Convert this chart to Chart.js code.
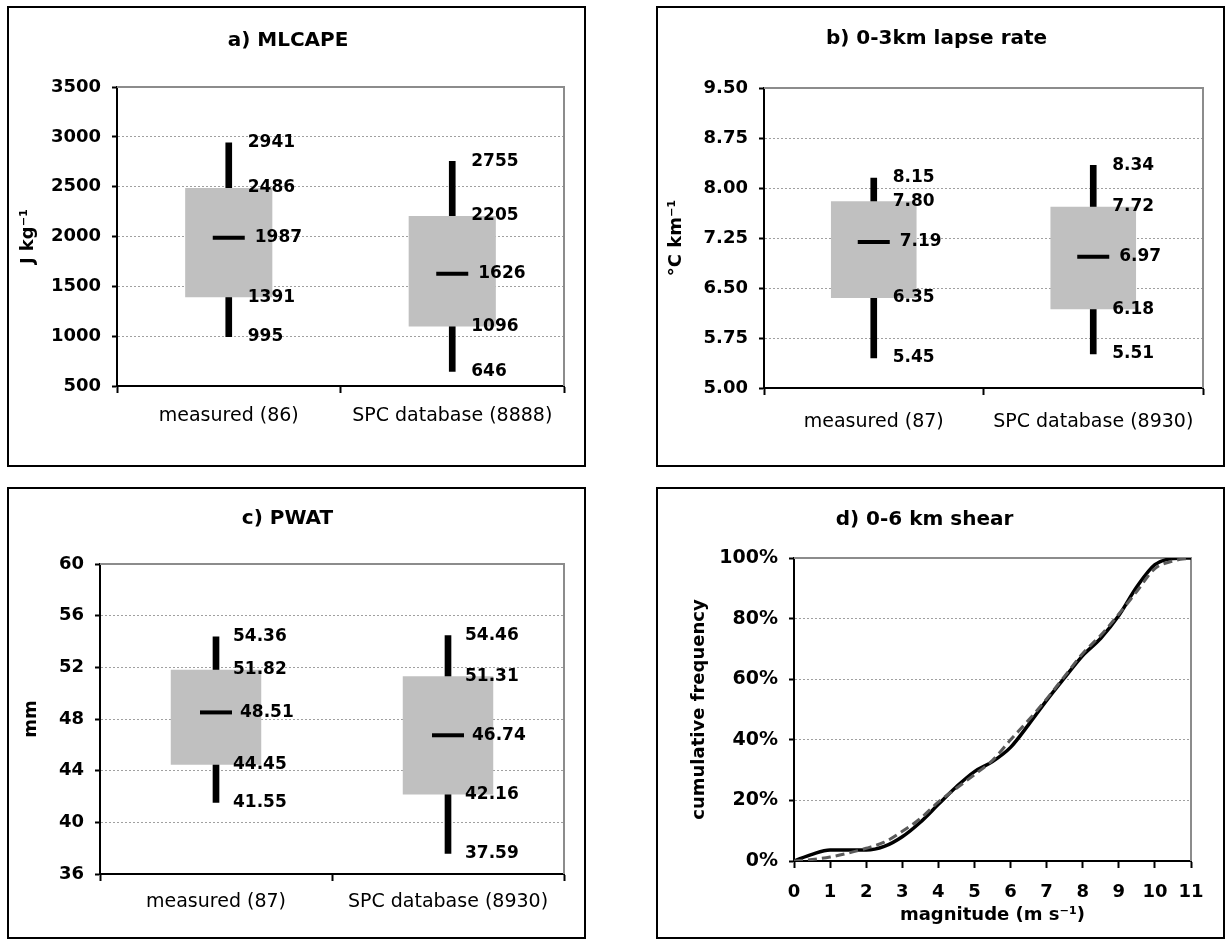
<!DOCTYPE html>
<html>
<head>
<meta charset="utf-8">
<script src="https://cdn.jsdelivr.net/npm/chart.js@4.4.1/dist/chart.umd.min.js"></script>
<style>
    body { margin: 0; background: #fff; width: 1227px; height: 943px; position: relative; overflow: hidden; }
    .panel { position: absolute; border: 2px solid #000; box-sizing: border-box; }
    .panel canvas { position: absolute; left: 0; top: 0; }
</style>
</head>
<body>
<div class="panel" style="left:7px;top:6px;width:579px;height:461px"><canvas id="chartA" width="575" height="457"></canvas></div>
<div class="panel" style="left:656px;top:6px;width:569px;height:461px"><canvas id="chartB" width="565" height="457"></canvas></div>
<div class="panel" style="left:7px;top:487px;width:579px;height:452px"><canvas id="chartC" width="575" height="448"></canvas></div>
<div class="panel" style="left:656px;top:487px;width:569px;height:452px"><canvas id="chartD" width="565" height="448"></canvas></div>
<script>
// a) MLCAPE
const capeLabels = ["measured (86)", "SPC database (8888)"];
const capeMin = [995, 646];
const capeQ1 = [1391, 1096];
const capeMedian = [1987, 1626];
const capeQ3 = [2486, 2205];
const capeMax = [2941, 2755];
const capeTicks = [500, 1000, 1500, 2000, 2500, 3000, 3500];

// b) 0-3km lapse rate
const lapseLabels = ["measured (87)", "SPC database (8930)"];
const lapseMin = [5.45, 5.51];
const lapseQ1 = [6.35, 6.18];
const lapseMedian = [7.19, 6.97];
const lapseQ3 = [7.80, 7.72];
const lapseMax = [8.15, 8.34];
const lapseTicks = [5.00, 5.75, 6.50, 7.25, 8.00, 8.75, 9.50];

// c) PWAT
const pwatLabels = ["measured (87)", "SPC database (8930)"];
const pwatMin = [41.55, 37.59];
const pwatQ1 = [44.45, 42.16];
const pwatMedian = [48.51, 46.74];
const pwatQ3 = [51.82, 51.31];
const pwatMax = [54.36, 54.46];
const pwatTicks = [36, 40, 44, 48, 52, 56, 60];

// d) 0-6 km shear, cumulative frequency (%)
const shearMagnitude = [0, 0.5, 1, 1.5, 2, 2.5, 3, 3.5, 4, 4.5, 5, 5.5, 6, 6.5, 7, 7.5, 8, 8.5, 9, 9.5, 10, 10.5, 11];
const shearMeasured = [0, 2.2, 3.6, 3.6, 3.6, 4.8, 8, 12.8, 18.7, 24.5, 29.5, 32.8, 37.5, 45, 53, 60.5, 67.8, 73.5, 81, 90.5, 97.8, 99.8, 100];
const shearSPC = [0, 0.5, 1.3, 2.6, 4.2, 6.2, 9.8, 14, 19.5, 24, 28.5, 33.2, 40, 46.5, 53.5, 61, 68.5, 74.5, 81.5, 89, 96.5, 99, 100];
const shearTicksX = [0, 1, 2, 3, 4, 5, 6, 7, 8, 9, 10, 11];
const shearTicksY = [0, 20, 40, 60, 80, 100];

Chart.defaults.font.family = "'DejaVu Sans', sans-serif";
Chart.defaults.color = "#000";
Chart.defaults.animation = false;

// gray top/right border of the plot area
const plotFrame = {
    id: "plotFrame",
    beforeDatasetsDraw(chart) {
        const { ctx, chartArea } = chart;
        ctx.save();
        ctx.strokeStyle = "#8c8c8c";
        ctx.lineWidth = 2;
        ctx.beginPath();
        ctx.moveTo(chartArea.left, chartArea.top);
        ctx.lineTo(chartArea.right, chartArea.top);
        ctx.lineTo(chartArea.right, chartArea.bottom);
        ctx.stroke();
        ctx.restore();
    }
};

// numbers next to each box
const boxLabels = {
    id: "boxLabels",
    afterDatasetsDraw(chart, args, opts) {
        if (!opts.rows) return;
        const { ctx } = chart;
        const xs = chart.scales.x;
        const ys = chart.scales.y;
        ctx.save();
        ctx.font = "bold 17px 'DejaVu Sans'";
        ctx.fillStyle = "#000";
        ctx.textAlign = "left";
        ctx.textBaseline = "middle";
        opts.rows.forEach((row, r) => {
            row.forEach((v, i) => {
                const dx = r === 2 ? opts.medianGap : opts.gap;
                ctx.fillText(v.toFixed(opts.decimals), xs.getPixelForValue(i) + dx, ys.getPixelForValue(v));
            });
        });
        ctx.restore();
    }
};

function boxChart(id, cfg) {

    return new Chart(document.getElementById(id), {

        type: "bar",

        data: {
            labels: cfg.labels,
            datasets: [
                {
                    type: "line",
                    data: cfg.median,
                    showLine: false,
                    pointStyle: "line",
                    pointRadius: 16,
                    pointBorderWidth: 4,
                    pointBorderColor: "#000",
                    pointBackgroundColor: "#000",
                    order: 1
                },
                {
                    data: cfg.q1.map((v, i) => [v, cfg.q3[i]]),
                    backgroundColor: "#c0c0c0",
                    barPercentage: 0.39,
                    categoryPercentage: 1,
                    grouped: false,
                    order: 2
                },
                {
                    data: cfg.min.map((v, i) => [v, cfg.max[i]]),
                    backgroundColor: "#000",
                    barThickness: 6,
                    grouped: false,
                    order: 3
                }
            ]
        },

        options: {
            responsive: false,
            events: [],
            layout: { padding: { left: 0, right: cfg.right, top: 0, bottom: cfg.bottom } },
            plugins: {
                legend: { display: false },
                tooltip: { enabled: false },
                title: {
                    display: true,
                    text: cfg.title,
                    font: { size: 20, weight: "bold" },
                    padding: { top: cfg.titleTop, bottom: cfg.titleBottom }
                },
                boxLabels: {
                    rows: [cfg.min, cfg.q1, cfg.median, cfg.q3, cfg.max],
                    decimals: cfg.decimals,
                    gap: cfg.gap,
                    medianGap: cfg.medianGap
                }
            },
            scales: {
                x: {
                    grid: { drawOnChartArea: false, offset: true, tickLength: 7, tickColor: "#000", tickWidth: 2, tickBorderDash: [] },
                    border: { color: "#000", width: 2 },
                    ticks: { font: { size: 19 }, padding: cfg.xPad },
                    afterFit: (s) => { s.height = cfg.xHeight; }
                },
                y: {
                    min: cfg.ticks[0],
                    max: cfg.ticks[cfg.ticks.length - 1],
                    afterBuildTicks: (s) => { s.ticks = cfg.ticks.map((v) => ({ value: v })); },
                    grid: { color: "#a0a0a0", tickColor: "#000", tickLength: 5, tickWidth: 2, tickBorderDash: [] },
                    border: { color: "#000", width: 2, dash: [2, 2] },
                    ticks: { font: { size: 18, weight: "bold" }, padding: 11, callback: (v) => Number(v).toFixed(cfg.tickDecimals) },
                    title: { display: true, text: cfg.yTitle, font: { size: 18, weight: "bold" }, padding: { top: cfg.yTitlePad, bottom: 0 } },
                    afterFit: (s) => { s.width = cfg.yWidth; }
                }
            }
        },

        plugins: [plotFrame, boxLabels]

    });

}

boxChart("chartA", {
    title: "a) MLCAPE", yTitle: "J kg⁻¹", labels: capeLabels,
    min: capeMin, q1: capeQ1, median: capeMedian, q3: capeQ3, max: capeMax,
    ticks: capeTicks, decimals: 0, tickDecimals: 0,
    yWidth: 108, right: 17, bottom: 29, xHeight: 50, xPad: 12,
    titleTop: 21, titleBottom: 34, yTitlePad: 9, gap: 19, medianGap: 26
});

boxChart("chartB", {
    title: "b) 0-3km lapse rate", yTitle: "°C km⁻¹", labels: lapseLabels,
    min: lapseMin, q1: lapseQ1, median: lapseMedian, q3: lapseQ3, max: lapseMax,
    ticks: lapseTicks, decimals: 2, tickDecimals: 2,
    yWidth: 106, right: 8, bottom: 27, xHeight: 50, xPad: 16,
    titleTop: 19, titleBottom: 37, yTitlePad: 8, gap: 19, medianGap: 26
});

boxChart("chartC", {
    title: "c) PWAT", yTitle: "mm", labels: pwatLabels,
    min: pwatMin, q1: pwatQ1, median: pwatMedian, q3: pwatQ3, max: pwatMax,
    ticks: pwatTicks, decimals: 2, tickDecimals: 0,
    yWidth: 91, right: 18, bottom: 13, xHeight: 50, xPad: 10,
    titleTop: 18, titleBottom: 33, yTitlePad: 12, gap: 17, medianGap: 24
});

// d) cumulative frequency lines

new Chart(document.getElementById("chartD"), {

    type: "line",

    data: {
        datasets: [
            {
                label: "SPC database",
                data: shearMagnitude.map((x, i) => ({ x: x, y: shearSPC[i] })),
                borderColor: "#5a5a5a",
                borderDash: [9, 5],
                borderWidth: 3,
                pointRadius: 0,
                cubicInterpolationMode: "monotone"
            },
            {
                label: "measured",
                data: shearMagnitude.map((x, i) => ({ x: x, y: shearMeasured[i] })),
                borderColor: "#000",
                borderWidth: 3.5,
                pointRadius: 0,
                cubicInterpolationMode: "monotone"
            }
        ]
    },

    options: {
        responsive: false,
        events: [],
        layout: { padding: { left: 0, right: 32, top: 0, bottom: 11 } },
        plugins: {
            legend: { display: false },
            tooltip: { enabled: false },
            title: {
                display: true,
                text: "d) 0-6 km shear",
                font: { size: 20, weight: "bold" },
                padding: { top: 19, bottom: 26 }
            }
        },
        scales: {
            x: {
                type: "linear",
                min: shearTicksX[0],
                max: shearTicksX[shearTicksX.length - 1],
                afterBuildTicks: (s) => { s.ticks = shearTicksX.map((v) => ({ value: v })); },
                grid: { drawOnChartArea: false, tickLength: 7, tickColor: "#000", tickWidth: 2, tickBorderDash: [] },
                border: { color: "#000", width: 2 },
                ticks: { font: { size: 18, weight: "bold" }, padding: 14, maxRotation: 0 },
                title: { display: true, text: "magnitude (m s⁻¹)", font: { size: 18, weight: "bold" }, padding: { top: 0, bottom: 0 } },
                afterFit: (s) => { s.height = 65; }
            },
            y: {
                min: shearTicksY[0],
                max: shearTicksY[shearTicksY.length - 1],
                afterBuildTicks: (s) => { s.ticks = shearTicksY.map((v) => ({ value: v })); },
                grid: { color: "#a0a0a0", tickColor: "#000", tickLength: 5, tickWidth: 2, tickBorderDash: [] },
                border: { color: "#000", width: 2, dash: [2, 2] },
                ticks: { font: { size: 19, weight: "bold" }, padding: 11, callback: (v) => v + "%" },
                title: { display: true, text: "cumulative frequency", font: { size: 18, weight: "bold" }, padding: { top: 31, bottom: 0 } },
                afterFit: (s) => { s.width = 136; }
            }
        }
    },

    plugins: [plotFrame]

});
</script>
</body>
</html>
